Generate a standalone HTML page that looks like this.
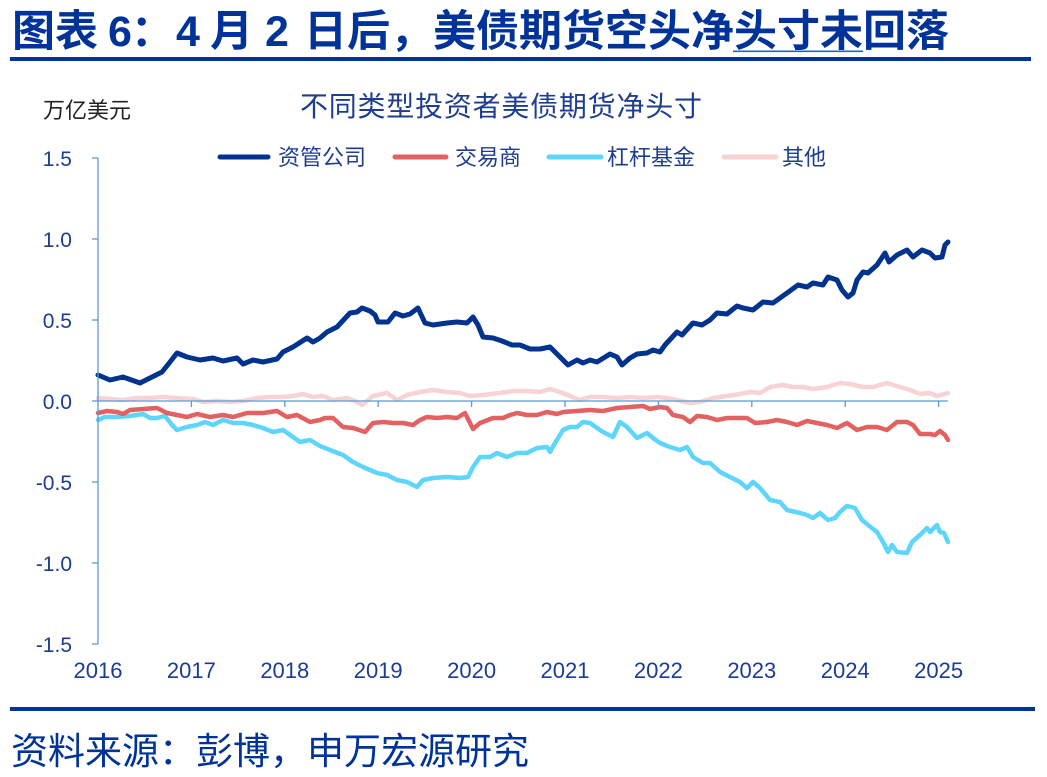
<!DOCTYPE html>
<html>
<head>
<meta charset="utf-8">
<style>
html,body{margin:0;padding:0;background:#fff;}
svg{display:block;}
text{font-family:"Liberation Sans","Noto Sans CJK SC",sans-serif;}
</style>
</head>
<body>
<svg width="1047" height="777" viewBox="0 0 1047 777" xmlns="http://www.w3.org/2000/svg">
<rect x="0" y="0" width="1047" height="777" fill="#ffffff"/>

<!-- Title -->
<g fill="#003399" font-weight="bold" font-size="43">
  <text x="12" y="46">图表</text>
  <text x="108" y="46">6</text>
  <text x="131" y="46">：</text>
  <text x="176" y="46">4</text>
  <text x="210" y="46">月</text>
  <text x="265" y="46">2</text>
  <text x="304" y="46" textLength="645" lengthAdjust="spacing">日后，美债期货空头净头寸未回落</text>
</g>
<rect x="733" y="50.5" width="130" height="1.6" fill="#2a5bd7"/>
<rect x="10" y="57" width="1021" height="4" fill="#003399"/>

<!-- Chart title & unit -->
<text x="300" y="116" font-size="28" fill="#1e3d8f" textLength="402" lengthAdjust="spacing">不同类型投资者美债期货净头寸</text>
<text x="43" y="118" font-size="22" fill="#222222">万亿美元</text>

<!-- Legend -->
<g stroke-width="5" stroke-linecap="round">
  <line x1="220" y1="157" x2="268" y2="157" stroke="#00338f"/>
  <line x1="395" y1="157" x2="446" y2="157" stroke="#e36161"/>
  <line x1="549" y1="157" x2="601" y2="157" stroke="#5dd5fc"/>
  <line x1="724" y1="157" x2="776" y2="157" stroke="#f8d3d3"/>
</g>
<g font-size="22" fill="#1e3d8f">
  <text x="278" y="165">资管公司</text>
  <text x="455" y="165">交易商</text>
  <text x="607" y="165">杠杆基金</text>
  <text x="782" y="165">其他</text>
</g>

<!-- Y tick labels -->
<g font-size="21" fill="#1c3c94" text-anchor="end">
  <text x="72" y="166">1.5</text>
  <text x="72" y="247">1.0</text>
  <text x="72" y="328">0.5</text>
  <text x="72" y="409">0.0</text>
  <text x="72" y="490">-0.5</text>
  <text x="72" y="571">-1.0</text>
  <text x="72" y="652">-1.5</text>
</g>

<!-- X tick labels -->
<g font-size="22" fill="#1c3c94" text-anchor="middle">
  <text x="98" y="678">2016</text>
  <text x="191.4" y="678">2017</text>
  <text x="284.8" y="678">2018</text>
  <text x="378.2" y="678">2019</text>
  <text x="471.6" y="678">2020</text>
  <text x="565" y="678">2021</text>
  <text x="658.4" y="678">2022</text>
  <text x="751.8" y="678">2023</text>
  <text x="845.2" y="678">2024</text>
  <text x="938.6" y="678">2025</text>
</g>

<!-- Series -->
<g fill="none" stroke-linejoin="round" stroke-linecap="round">
<polyline stroke="#f8d3d3" stroke-width="4.5" points="98,398 110,399 123,400 137,398 150,398 163,397 177,398 193,399 203,402 217,401 230,402 243,401 257,398 270,397 283,397 293,396 303,394 313,397 323,396 333,400 347,398 357,402 362,405 373,396 387,393 397,400 407,395 420,392 433,390 447,392 460,393 470,396 483,395 500,393 513,391 527,391 540,392 550,389 560,392 570,396 580,400 590,397 603,397 617,398 630,397 643,398 657,397 667,398 677,400 690,403 700,402 713,398 727,396 740,394 750,392 760,393 770,387 783,385 793,387 803,387 813,389 827,387 840,383 850,384 863,387 873,387 887,383 900,387 910,390 920,394 930,393 937,396 948,393"/>
<polyline stroke="#5dd5fc" stroke-width="4.5" points="98,420 105,417 117,417 130,416 143,414 150,418 157,418 165,416 172,425 177,430 187,427 197,425 205,422 213,425 223,420 233,423 243,423 253,425 263,428 273,432 283,430 293,437 300,442 310,440 320,446 330,450 343,455 353,462 363,467 377,473 387,475 397,480 407,482 417,487 423,480 433,478 447,477 460,478 468,477 473,467 480,457 490,457 497,453 507,457 517,453 527,453 537,448 547,447 550,452 555,443 563,430 570,427 577,427 583,422 590,423 597,428 603,432 613,437 620,422 627,427 637,438 647,433 653,438 660,443 670,447 680,450 687,447 693,457 703,463 710,463 720,472 730,477 740,482 747,488 753,482 760,488 770,500 780,502 787,510 800,513 807,515 813,518 820,513 828,520 835,518 840,512 847,506 855,508 862,520 868,525 877,532 883,542 888,552 892,545 897,552 907,553 912,542 920,535 927,528 930,532 937,525 940,532 944,533 948,542"/>
<polyline stroke="#e36161" stroke-width="4.5" points="98,413 107,411 117,412 123,414 130,410 143,409 157,408 167,413 177,415 187,417 197,414 210,417 223,415 233,417 247,413 263,413 277,411 287,417 297,415 310,422 320,420 325,418 333,418 343,427 353,428 365,432 373,423 383,422 393,423 403,423 413,425 420,420 427,417 437,418 447,417 457,418 465,413 470,423 473,429 480,423 493,418 503,418 510,415 517,413 527,415 537,415 547,412 557,414 563,412 577,411 590,410 603,411 617,408 630,407 643,406 650,409 660,407 667,408 673,415 683,417 690,422 697,416 707,417 717,420 727,418 740,418 747,418 755,423 767,422 777,420 787,422 797,425 807,421 817,423 827,425 837,428 847,423 857,430 867,427 877,427 887,430 897,422 907,422 913,425 920,434 930,434 935,435 940,431 945,435 948,440"/>
<polyline stroke="#00338f" stroke-width="5" points="98,375 110,380 123,377 140,383 150,378 162,372 170,362 177,353 187,357 200,360 213,358 223,361 237,358 243,364 253,360 263,362 277,359 283,352 293,347 307,338 313,342 320,338 327,332 337,327 350,313 357,312 362,308 370,311 375,315 378,322 388,322 395,313 403,316 410,314 418,308 425,323 433,325 447,323 457,322 467,323 473,317 478,325 483,337 493,338 502,341 512,345 520,345 530,349 540,349 550,347 555,352 563,360 568,365 577,360 583,363 590,360 597,362 610,354 617,357 622,365 630,358 637,354 647,353 653,350 660,352 665,345 677,332 682,335 693,323 702,325 710,320 717,313 727,314 737,306 743,308 753,310 763,302 773,303 787,293 798,285 807,287 813,283 823,285 828,277 837,280 842,290 848,297 853,293 857,280 863,272 868,273 877,265 885,253 889,262 897,255 907,250 913,257 922,250 930,253 935,258 942,257 945,245 948,242"/>
</g>

<!-- Axes -->
<g stroke="#5b9bd5" stroke-width="1.3" fill="none">
  <line x1="98" y1="158" x2="98" y2="644"/>
  <line x1="92" y1="158" x2="98" y2="158"/>
  <line x1="92" y1="239" x2="98" y2="239"/>
  <line x1="92" y1="320" x2="98" y2="320"/>
  <line x1="92" y1="401" x2="98" y2="401"/>
  <line x1="92" y1="482" x2="98" y2="482"/>
  <line x1="92" y1="563" x2="98" y2="563"/>
  <line x1="92" y1="644" x2="98" y2="644"/>
  <line x1="98" y1="401" x2="948" y2="401"/>
  <line x1="191.4" y1="401" x2="191.4" y2="407"/>
  <line x1="284.8" y1="401" x2="284.8" y2="407"/>
  <line x1="378.2" y1="401" x2="378.2" y2="407"/>
  <line x1="471.6" y1="401" x2="471.6" y2="407"/>
  <line x1="565" y1="401" x2="565" y2="407"/>
  <line x1="658.4" y1="401" x2="658.4" y2="407"/>
  <line x1="751.8" y1="401" x2="751.8" y2="407"/>
  <line x1="845.2" y1="401" x2="845.2" y2="407"/>
  <line x1="938.6" y1="401" x2="938.6" y2="407"/>
</g>

<!-- Footer -->
<rect x="10" y="707" width="1025" height="4" fill="#003399"/>
<text x="11" y="764" font-size="37" fill="#003399" textLength="518" lengthAdjust="spacing">资料来源：彭博，申万宏源研究</text>
</svg>
</body>
</html>
